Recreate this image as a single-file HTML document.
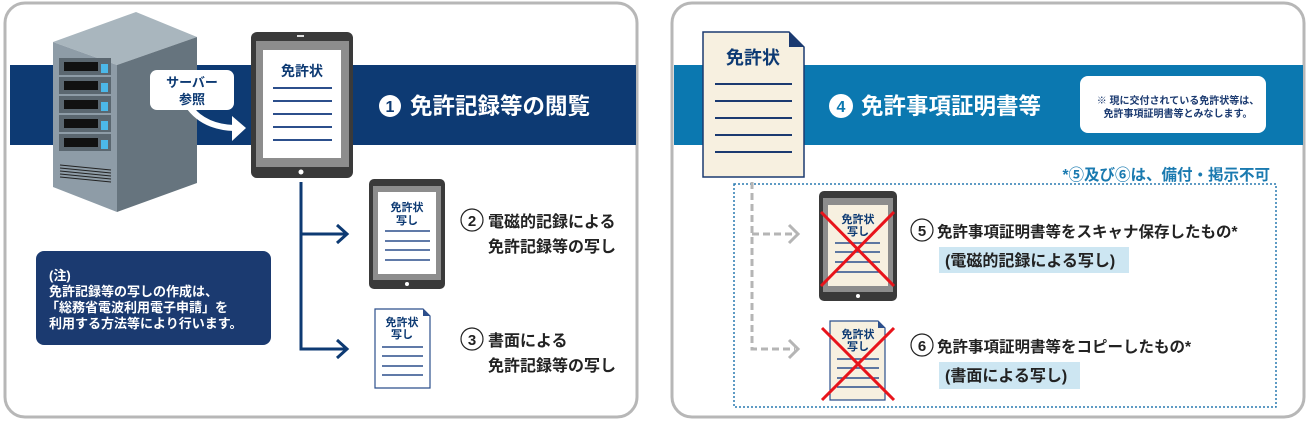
<!DOCTYPE html>
<html><head><meta charset="utf-8"><style>
body{margin:0;width:1308px;height:422px;background:#fff;font-family:"Liberation Sans","Noto Sans CJK JP",sans-serif;overflow:hidden}
svg text{font-family:"Liberation Sans","Noto Sans CJK JP",sans-serif;font-weight:bold}
</style></head><body>
<svg width="1308" height="422" viewBox="0 0 1308 422" xmlns="http://www.w3.org/2000/svg">
<!-- LEFT PANEL -->
<rect x="5" y="3" width="632" height="414" rx="20" fill="#fff" stroke="#b7b7b7" stroke-width="3"/>
<rect x="10" y="65" width="626" height="80" fill="#0d3a73"/>
<!-- server -->
<polygon points="136,12 197,37 117,65 53,42" fill="#a9b6be"/>
<polygon points="53,42 117,65 117,212 53,187" fill="#8e9ca7"/>
<polygon points="117,65 197,37 197,183 117,212" fill="#66747e"/>
<g fill="#5b6770">
<rect x="59" y="58" width="52" height="17"/><rect x="59" y="77" width="52" height="17"/><rect x="59" y="96" width="52" height="17"/><rect x="59" y="115" width="52" height="17"/><rect x="59" y="134" width="52" height="17"/></g>
<g fill="#111"><rect x="64" y="62" width="34" height="9"/><rect x="64" y="81" width="34" height="9"/><rect x="64" y="100" width="34" height="9"/><rect x="64" y="119" width="34" height="9"/><rect x="64" y="138" width="34" height="9"/></g>
<g fill="#4cb8e8"><rect x="101" y="64" width="7" height="9"/><rect x="101" y="83" width="7" height="9"/><rect x="101" y="102" width="7" height="9"/><rect x="101" y="121" width="7" height="9"/><rect x="101" y="140" width="7" height="9"/></g>
<g stroke="#222" stroke-width="1"><line x1="60" y1="165" x2="111" y2="170"/><line x1="60" y1="168" x2="111" y2="173"/><line x1="60" y1="171" x2="111" y2="176"/><line x1="60" y1="174" x2="111" y2="179"/><line x1="60" y1="177" x2="111" y2="182"/></g>
<!-- callout -->
<rect x="150" y="70" width="84" height="40" rx="7" fill="#fff"/>
<text x="192" y="87" font-size="13" fill="#0d3a73" text-anchor="middle">サーバー</text>
<text x="192" y="104" font-size="13" fill="#0d3a73" text-anchor="middle">参照</text>
<path d="M190,108 Q205,127 234,128" stroke="#fff" stroke-width="6" fill="none"/>
<polygon points="232,116 246,128 232,141" fill="#fff"/>
<!-- tablet 1 -->
<rect x="251" y="32" width="102" height="146" rx="6" fill="#3a3a3a"/>
<rect x="256" y="41" width="93" height="126" fill="#8d8d8d"/>
<rect x="263" y="50" width="78" height="108" fill="#fff"/>
<rect x="297" y="35" width="7" height="2" fill="#ddd"/><circle cx="301" cy="172" r="2.5" fill="#fff"/>
<text x="302" y="76" font-size="14" fill="#0d3a73" text-anchor="middle" font-weight="normal">免許状</text>
<g stroke="#2c4f8c" stroke-width="2"><line x1="273" y1="88" x2="332" y2="88"/><line x1="273" y1="101" x2="332" y2="101"/><line x1="273" y1="114" x2="332" y2="114"/><line x1="273" y1="127" x2="332" y2="127"/><line x1="273" y1="140" x2="332" y2="140"/></g>
<circle cx="390" cy="106" r="11" fill="#fff"/><text x="390" y="112" font-size="16" fill="#0d3a73" text-anchor="middle">1</text>
<text x="410" y="114" font-size="22.5" fill="#fff">免許記録等の閲覧</text>
<!-- connectors -->
<g stroke="#0d3a73" stroke-width="3" fill="none"><path d="M301,182 V349 H345"/><path d="M301,234 H345"/><path d="M337,225 L347,234 L337,243"/><path d="M337,340 L347,349 L337,358"/></g>
<!-- tablet 2 -->
<rect x="369" y="179" width="76" height="110" rx="5" fill="#3a3a3a"/>
<rect x="373" y="186" width="68" height="94" fill="#8d8d8d"/>
<rect x="378" y="192" width="58" height="82" fill="#fff"/>
<circle cx="407" cy="284" r="2" fill="#fff"/>
<text x="407" y="211" font-size="11" fill="#0d3a73" text-anchor="middle" font-weight="normal">免許状</text>
<text x="407" y="224" font-size="11" fill="#0d3a73" text-anchor="middle" font-weight="normal">写し</text>
<g stroke="#2c4f8c" stroke-width="1.5"><line x1="385" y1="231" x2="430" y2="231"/><line x1="385" y1="241" x2="430" y2="241"/><line x1="385" y1="250" x2="430" y2="250"/><line x1="385" y1="260" x2="430" y2="260"/></g>
<circle cx="472" cy="220" r="11" fill="#fff" stroke="#222" stroke-width="1.2"/><text x="472" y="226" font-size="15" fill="#222" text-anchor="middle">2</text>
<text x="488" y="227" font-size="16" fill="#222">電磁的記録による</text>
<text x="488" y="252" font-size="16" fill="#222">免許記録等の写し</text>
<!-- paper 3 -->
<path d="M375,309 H423 L430,316 V388 H375 Z" fill="#fff" stroke="#2c4f8c" stroke-width="1.2"/>
<polygon points="423,309 430,316 423,316" fill="#2c4f8c"/>
<text x="402" y="326" font-size="11" fill="#0d3a73" text-anchor="middle" font-weight="normal">免許状</text>
<text x="402" y="338" font-size="11" fill="#0d3a73" text-anchor="middle" font-weight="normal">写し</text>
<g stroke="#2c4f8c" stroke-width="1.5"><line x1="382" y1="347" x2="423" y2="347"/><line x1="382" y1="356" x2="423" y2="356"/><line x1="382" y1="366" x2="423" y2="366"/><line x1="382" y1="375" x2="423" y2="375"/></g>
<circle cx="472" cy="339" r="11" fill="#fff" stroke="#222" stroke-width="1.2"/><text x="472" y="345" font-size="15" fill="#222" text-anchor="middle">3</text>
<text x="488" y="346" font-size="16" fill="#222">書面による</text>
<text x="488" y="371" font-size="16" fill="#222">免許記録等の写し</text>
<!-- note -->
<rect x="36" y="251" width="235" height="94" rx="8" fill="#1b3a70"/>
<g font-size="13" fill="#fff"><text x="49" y="280" font-weight="normal">(注)</text><text x="49" y="296" font-weight="normal">免許記録等の写しの作成は、</text><text x="46" y="312" font-weight="normal">「総務省電波利用電子申請」を</text><text x="49" y="328" font-weight="normal">利用する方法等により行います。</text></g>

<!-- RIGHT PANEL -->
<rect x="672" y="3" width="632" height="414" rx="20" fill="#fff" stroke="#b7b7b7" stroke-width="3"/>
<rect x="674" y="65" width="629" height="80" fill="#0b78b0"/>
<path d="M703,32 H789 L804,47 V177 H703 Z" fill="#f7f0e0" stroke="#1b3a70" stroke-width="1.5"/>
<polygon points="789,32 804,47 789,47" fill="#1b3a70"/>
<text x="753" y="64" font-size="18" fill="#0d3a73" text-anchor="middle" font-weight="normal">免許状</text>
<g stroke="#1b3a70" stroke-width="2"><line x1="715" y1="84" x2="792" y2="84"/><line x1="715" y1="101" x2="792" y2="101"/><line x1="715" y1="118" x2="792" y2="118"/><line x1="715" y1="135" x2="792" y2="135"/><line x1="715" y1="152" x2="792" y2="152"/></g>
<circle cx="841" cy="106" r="12" fill="#fff"/><text x="841" y="112" font-size="16" fill="#0b78b0" text-anchor="middle">4</text>
<text x="861" y="114" font-size="22.5" fill="#fff">免許事項証明書等</text>
<rect x="1080" y="76" width="186" height="57" rx="8" fill="#fff"/>
<text x="1178" y="104" font-size="10" fill="#1b3a70" text-anchor="middle">※ 現に交付されている免許状等は、</text>
<text x="1178" y="117" font-size="10" fill="#1b3a70" text-anchor="middle">免許事項証明書等とみなします。</text>
<text x="1270" y="180" font-size="15.5" fill="#1a7ab0" text-anchor="end">*⑤及び⑥は、備付・掲示不可</text>
<rect x="734" y="184" width="542" height="223" fill="none" stroke="#2a7ab0" stroke-width="1.5" stroke-dasharray="2,2"/>
<g stroke="#b5b5b5" stroke-width="3" fill="none" stroke-dasharray="7,4"><path d="M752,182 V349 H795"/><path d="M752,234 H795"/></g>
<g stroke="#b5b5b5" stroke-width="3" fill="none"><path d="M789,225 L798,234 L789,243"/><path d="M789,340 L798,349 L789,358"/></g>
<!-- tablet 5 -->
<rect x="819" y="191" width="78" height="110" rx="5" fill="#3a3a3a"/>
<rect x="823" y="198" width="70" height="94" fill="#8d8d8d"/>
<rect x="828" y="205" width="60" height="81" fill="#f7f0e0"/>
<circle cx="858" cy="296" r="2" fill="#fff"/>
<text x="858" y="223" font-size="11" fill="#0d3a73" text-anchor="middle" font-weight="normal">免許状</text>
<text x="858" y="235" font-size="11" fill="#0d3a73" text-anchor="middle" font-weight="normal">写し</text>
<g stroke="#2c4f8c" stroke-width="1.5"><line x1="835" y1="243" x2="880" y2="243"/><line x1="835" y1="252" x2="880" y2="252"/><line x1="835" y1="262" x2="880" y2="262"/><line x1="835" y1="272" x2="880" y2="272"/></g>
<g stroke="#e8141b" stroke-width="3"><line x1="821" y1="212" x2="894" y2="286"/><line x1="894" y1="212" x2="821" y2="286"/></g>
<!-- paper 6 -->
<path d="M830,321 H878 L885,328 V400 H830 Z" fill="#f7f0e0" stroke="#2c4f8c" stroke-width="1.2"/>
<polygon points="878,321 885,328 878,328" fill="#2c4f8c"/>
<text x="858" y="338" font-size="11" fill="#0d3a73" text-anchor="middle" font-weight="normal">免許状</text>
<text x="858" y="350" font-size="11" fill="#0d3a73" text-anchor="middle" font-weight="normal">写し</text>
<g stroke="#2c4f8c" stroke-width="1.5"><line x1="837" y1="359" x2="879" y2="359"/><line x1="837" y1="368" x2="879" y2="368"/><line x1="837" y1="378" x2="879" y2="378"/><line x1="837" y1="387" x2="879" y2="387"/></g>
<g stroke="#e8141b" stroke-width="3"><line x1="822" y1="328" x2="894" y2="400"/><line x1="894" y1="328" x2="822" y2="400"/></g>
<circle cx="922" cy="230" r="11" fill="#fff" stroke="#222" stroke-width="1.2"/><text x="922" y="236" font-size="15" fill="#222" text-anchor="middle">5</text>
<text x="937" y="237" font-size="15.5" fill="#222">免許事項証明書等をスキャナ保存したもの*</text>
<rect x="939" y="247" width="190" height="26" fill="#cde6f2"/>
<text x="945" y="266" font-size="16" fill="#222">(電磁的記録による写し)</text>
<circle cx="922" cy="345" r="11" fill="#fff" stroke="#222" stroke-width="1.2"/><text x="922" y="351" font-size="15" fill="#222" text-anchor="middle">6</text>
<text x="937" y="352" font-size="15.5" fill="#222">免許事項証明書等をコピーしたもの*</text>
<rect x="939" y="362" width="141" height="27" fill="#cde6f2"/>
<text x="945" y="381" font-size="16" fill="#222">(書面による写し)</text>
</svg>
</body></html>
